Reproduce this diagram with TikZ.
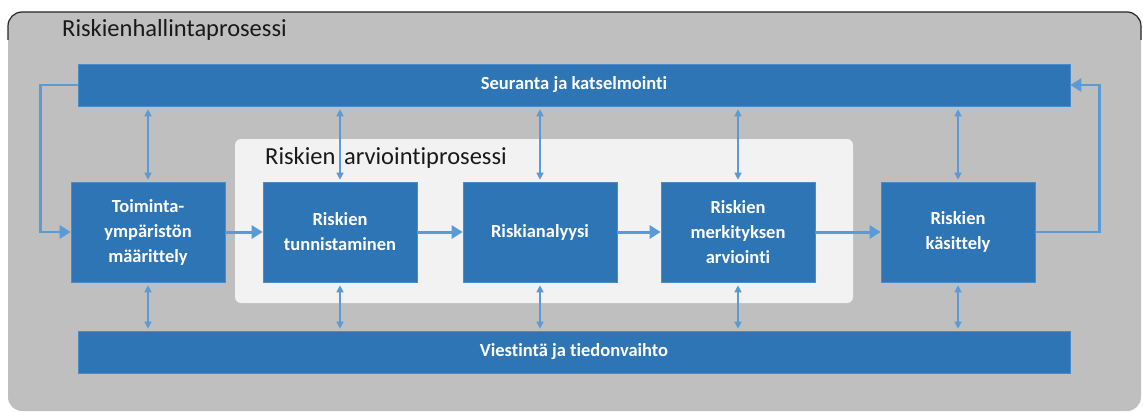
\documentclass[tikz,border=0pt]{standalone}
\usepackage{fontspec}
\setmainfont{Carlito}[Ligatures=NoCommon]
\usetikzlibrary{arrows.meta}
\definecolor{panelgray}{HTML}{BFBFBF}
\definecolor{innergray}{HTML}{F2F2F2}
\definecolor{boxblue}{HTML}{2E75B6}
\definecolor{arrblue}{HTML}{5B9BD5}
\tikzset{
  stepbox/.style={fill=boxblue, draw=arrblue!60!boxblue, line width=0.6pt, minimum width=154pt, minimum height=100pt, inner sep=0pt, text=white, align=center, font=\fontsize{18.5}{25}\selectfont\bfseries},
  barbox/.style={fill=boxblue, draw=arrblue!60!boxblue, line width=0.6pt, minimum width=992pt, minimum height=42pt, inner sep=0pt, text=white, font=\fontsize{18.5}{25}\selectfont\bfseries},
  dbl/.style={draw=arrblue, line width=1.3pt, {Triangle[width=7pt,length=7pt]}-{Triangle[width=7pt,length=7pt]}, shorten <=3pt, shorten >=2pt},
  flow/.style={draw=arrblue, line width=3pt, -{Triangle[width=13pt,length=11pt]}},
  fb/.style={draw=arrblue, line width=2.6pt, -{Triangle[width=13pt,length=11pt]}},
  titletext/.style={anchor=west, inner sep=0pt, text=black!90, font=\fontsize{24.5}{28}\selectfont},
}
\begin{document}
\begin{tikzpicture}[x=1pt,y=-1pt]
\useasboundingbox (0,0) rectangle (1143,412);
% outer panel
\fill[panelgray, rounded corners=14pt] (8,12) rectangle (1141,411);
\draw[black!85, line width=1.2pt, rounded corners=14pt] (8,40) -- (8,12) -- (1141,12) -- (1141,40);
\node[titletext] (title) at (62,30) {Riskienhallintaprosessi};
% inner panel
\fill[innergray, rounded corners=6pt] (235,139) rectangle (853,303);
\node[titletext] (subtitle) at (265,158) {Riskien\hspace{3pt} arviointiprosessi};
% bars
\node[barbox] (top) at (574,85) {Seuranta ja katselmointi};
\node[barbox] (bot) at (574,352) {Viestintä ja tiedonvaihto};
% steps
\node[stepbox] (t) at (148,232) {Toiminta-\\ympäristön\\määrittely};
\node[stepbox] (r) at (340,232) {Riskien\\tunnistaminen};
\node[stepbox] (a) at (540,232) {Riskianalyysi};
\node[stepbox] (m) at (738,232) {Riskien\\merkityksen\\arviointi};
\node[stepbox] (k) at (958,232) {Riskien\\käsittely};
% flow
\draw[flow] (t.east) -- (r.west);
\draw[flow] (r.east) -- (a.west);
\draw[flow] (a.east) -- (m.west);
\draw[flow] (m.east) -- (k.west);
% feedback
\draw[fb] (k.east) -- ++(64,0) |- (top.east);
\draw[fb] (top.west) -- ++(-37,0) |- (t.west);
% vertical links
\foreach \n in {t,r,a,m,k}{
  \draw[dbl] (\n.north |- top.south) -- (\n.north);
  \draw[dbl] (\n.south) -- (\n.south |- bot.north);
}
\end{tikzpicture}
\end{document}
